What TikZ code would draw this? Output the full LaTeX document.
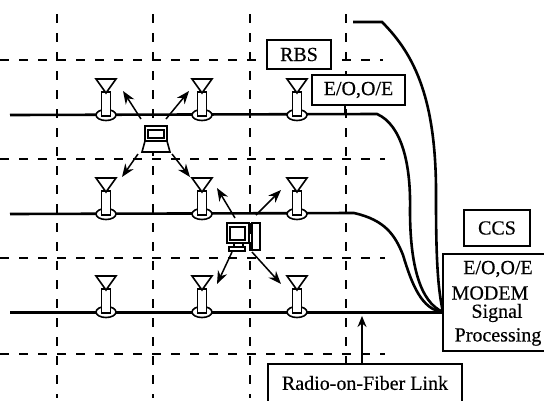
\documentclass[tikz,border=0pt]{standalone}
\usepackage{fontspec}
\setmainfont[FakeBold=0.4]{Liberation Serif}
\usetikzlibrary{arrows.meta}
\tikzset{
  x=1pt,y=-1pt,
  grid/.style={line width=1.2pt,dash pattern=on 9pt off 10pt},
  fiber/.style={line width=2.6pt},
  box/.style={draw,line width=1.4pt,rectangle,inner sep=0pt,fill=white,font=\fontsize{20}{22}\selectfont},
  ray/.style={line width=1.5pt,-{Stealth[length=13pt,width=10pt]}},
  part/.style={line width=1.6pt,fill=white},
}
\newcommand{\antenna}[2]{%
  \draw[part] (#1,#2) ellipse[x radius=10,y radius=5.5];
  \draw[part] (#1-4.5,#2+1) -- (#1-4.5,#2-23) -- (#1+4.5,#2-23) -- (#1+4.5,#2+1) -- cycle;
  \draw[part] (#1-10,#2-36) -- (#1+10,#2-36) -- (#1,#2-22) -- cycle;
}
\begin{document}
\begin{tikzpicture}
\useasboundingbox (0,0) rectangle (544,400);
\foreach \x in {57,153,250,346} {\draw[grid] (\x,14) -- (\x,398);}
\foreach \y/\e in {60/383,159/385,258/385,354/385} {\draw[grid] (0,\y) -- (\e,\y);}

\coordinate (hub) at (443,312);
\coordinate (f0) at (353,22);
\coordinate (f1) at (10,115);
\coordinate (f2) at (10,214);
\coordinate (f3) at (10,312);
\draw[fiber] (f0) -- (382,22) .. controls (415,55) and (437,100) .. (436,200) .. controls (436,260) and (438,290) .. (hub);
\draw[fiber] (f1) -- (377,114) .. controls (402,125) and (411,165) .. (410,210) .. controls (410,265) and (420,302) .. (hub);
\draw[fiber] (f2) -- (354,213) .. controls (385,220) and (395,235) .. (403,255) .. controls (412,285) and (422,310) .. (hub);
\draw[fiber,line width=3pt] (f3) -- (hub);

\foreach \x in {106,202,297} {\foreach \y in {115,214,312} {\antenna{\x}{\y}}}

% laptop
\draw[part] (145,126) rectangle (167,141);
\draw[line width=1.2pt] (148,130) rectangle (164,138);
\draw[part] (145,141) -- (167,141) -- (170,152) -- (142,152) -- cycle;
\coordinate (a1) at (123,91); \coordinate (a2) at (189,91);
\coordinate (a3) at (122,177); \coordinate (a4) at (190,177);
\draw[ray] (141,119) -- (a1);
\draw[ray] (166,119) -- (a2);
\draw[ray] (138,154) -- (a3);
\draw[ray] (172,154) -- (a4);

% desktop
\draw[part] (227,223) rectangle (249,243);
\draw[line width=1.2pt] (230,227) rectangle (245,240);
\draw[part] (234,243) rectangle (243,247);
\draw[part] (229,247) rectangle (245,251);
\draw[part] (252,223) rectangle (260,250);
\draw[line width=1.2pt] (249,233) -- (252,233);
\coordinate (b1) at (217,188); \coordinate (b2) at (281,190);
\coordinate (b3) at (217,284); \coordinate (b4) at (281,284);
\draw[ray] (235,218) -- (b1);
\draw[ray] (256,215) -- (b2);
\draw[ray] (232,252) -- (b3);
\draw[ray] (252,252) -- (b4);

% boxes
\node[box,minimum width=64pt,minimum height=29pt] (rbs) at (299,54.5) {RBS};
\node[box,minimum width=93pt,minimum height=30pt] (eo) at (358.5,90) {E/O,O/E};
\coordinate (eoj) at (345,114);
\draw[line width=1.4pt] (eo.south -| eoj) -- (eoj);
\node[box,minimum width=66pt,minimum height=36pt] (ccs) at (497,228) {CCS};
\draw[line width=1.4pt,fill=white] (443,254) rectangle (547,351);
\node[font=\fontsize{20}{22}\selectfont] (t1) at (498,269) {E/O,O/E};
\node[font=\fontsize{20}{22}\selectfont] (t2) at (490,293) {MODEM};
\node[font=\fontsize{20}{22}\selectfont] (t3) at (497,313) {Signal};
\node[font=\fontsize{20}{22}\selectfont] (t4) at (498,337) {Processing};
\draw[line width=1.4pt,fill=white] (268,364) rectangle (462,403);
\node[font=\fontsize{20}{22}\selectfont] (link) at (365,383) {Radio-on-Fiber Link};
\coordinate (lt) at (362,316);
\draw[line width=1.5pt,-{Stealth[length=11pt,width=9pt]}] (362,364) -- (lt);
\end{tikzpicture}
\end{document}
